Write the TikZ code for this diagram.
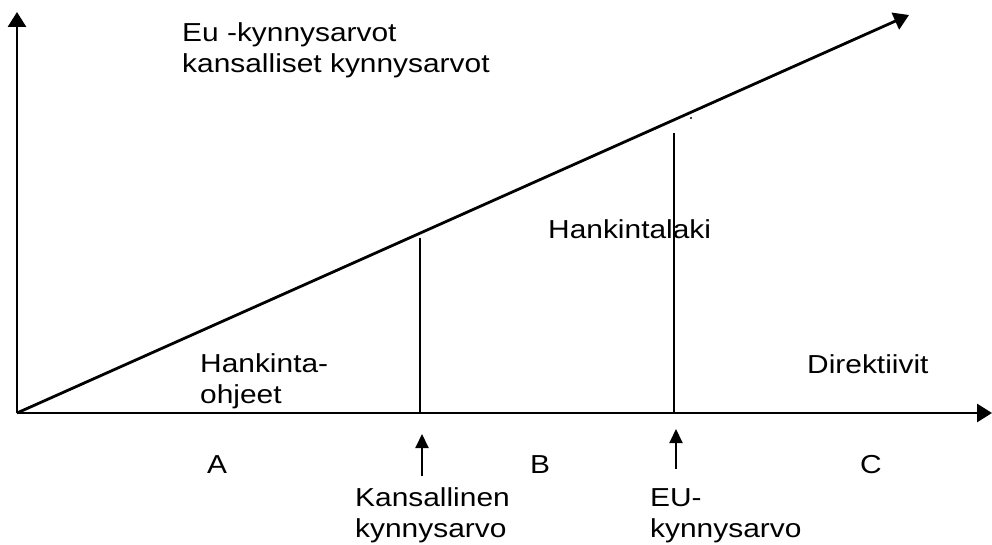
\documentclass[tikz,border=0pt]{standalone}
\usepackage{fontspec}
\newfontfamily\arialw[FakeStretch=1.15]{Liberation Sans}
\usetikzlibrary{arrows.meta}

\begin{document}
\begin{tikzpicture}[x=1pt,y=-1pt,
	axis/.style={line width=2.8pt,-{Triangle[length=15pt,width=18pt]}},
	limit/.style={line width=2pt},
	mark arrow/.style={line width=2pt,-{Triangle[length=14pt,width=13pt]}},
	lbl/.style={anchor=base west,inner sep=0pt,align=left,
		font=\arialw\fontsize{26}{31}\selectfont}]
\useasboundingbox (0,0) rectangle (992,545);
\coordinate (O) at (17,413);
\coordinate (ytip) at (17,12);
\coordinate (xtip) at (992,413);
\coordinate (dtip) at (909,15);
\coordinate (k0) at (420,413);
\coordinate (k1) at (420,238);
\coordinate (e0) at (674,413);
\coordinate (e1) at (674,133);
\draw[axis] (O) -- (ytip);
\draw[axis] (O) -- (xtip);
\draw[axis] (O) -- (dtip);
\draw[limit] (k0) -- (k1);
\draw[limit] (e0) -- (e1);
\fill (691,118) circle (1.2pt);
% labels (base = last line)
\node[lbl] (eu) at (182,73) {Eu -kynnysarvot\\kansalliset kynnysarvot};
\node[lbl] (laki) at (548,238) {Hankintalaki};
\node[lbl] (ohjeet) at (200,403) {Hankinta-\\ohjeet};
\node[lbl] (dir) at (807,373) {Direktiivit};
\node[lbl] (A) at (207,473) {A};
\node[lbl] (B) at (530,473) {B};
\node[lbl] (C) at (860,473) {C};
\node[lbl] (kans) at (355,537) {Kansallinen\\kynnysarvo};
\node[lbl] (eukyn) at (650,537) {EU-\\kynnysarvo};
\coordinate (ka) at (422,476);
\coordinate (kb) at (422,434);
\coordinate (ea) at (676,469);
\coordinate (eb) at (676,429);
\draw[mark arrow] (ka) -- (kb);
\draw[mark arrow] (ea) -- (eb);
\end{tikzpicture}
\end{document}
